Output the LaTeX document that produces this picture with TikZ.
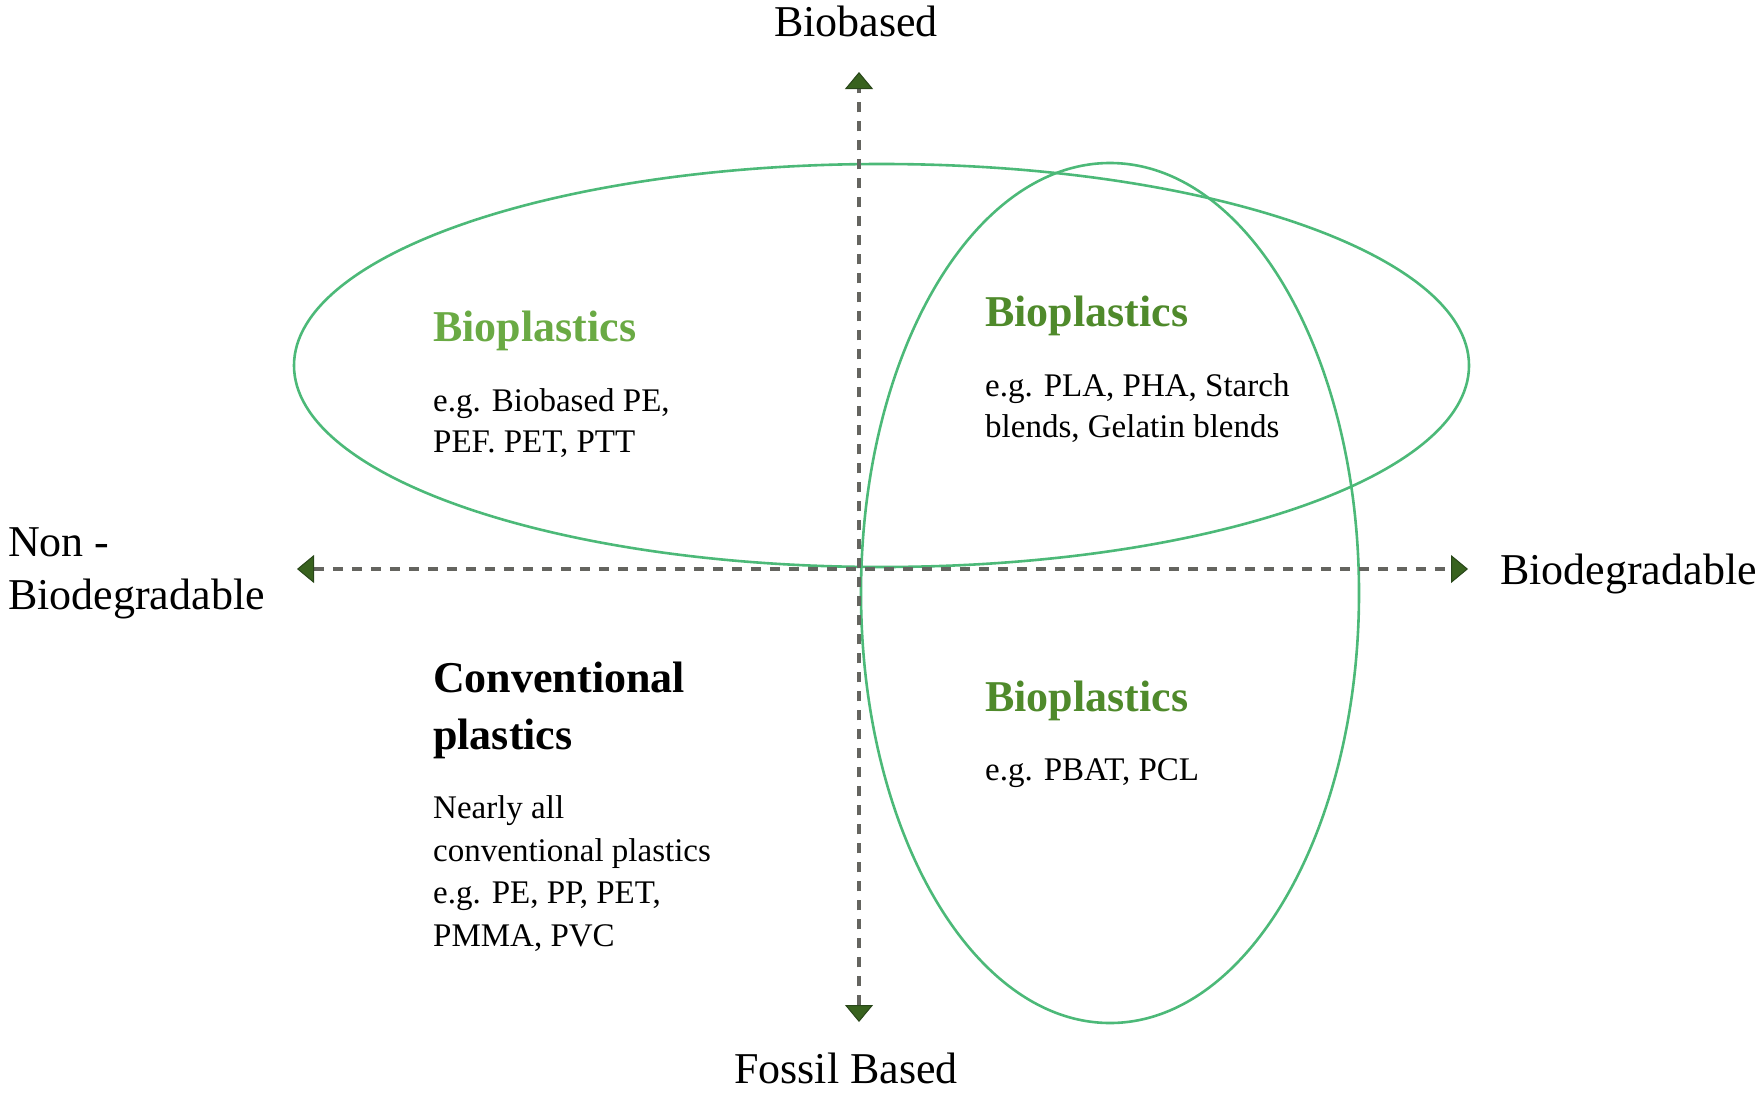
\documentclass[tikz,border=0pt]{standalone}
\usepackage{fontspec}
\setmainfont{Liberation Serif}
\usetikzlibrary{arrows.meta}
\definecolor{ellgreen}{RGB}{76,185,120}
\definecolor{lightgreen}{RGB}{106,170,68}
\definecolor{darkgreen}{RGB}{79,138,43}
\definecolor{arrowfill}{RGB}{56,98,30}
\definecolor{arrowdraw}{RGB}{40,70,25}
\definecolor{dashgray}{RGB}{100,100,95}
\tikzset{
  axisline/.style={draw=dashgray, line width=3.6pt, dash pattern=on 10pt off 9pt,
    {Triangle[length=17pt,width=28pt,fill=arrowfill,color=arrowdraw,line width=1pt]}-{Triangle[length=17pt,width=28pt,fill=arrowfill,color=arrowdraw,line width=1pt]}},
  ell/.style={draw=ellgreen, line width=2.6pt},
  axislabel/.style={inner sep=0pt, font=\fontsize{44}{53}\selectfont, align=left},
  headlight/.style={inner sep=0pt, anchor=base west, font=\fontsize{44}{57}\selectfont\bfseries, text=lightgreen, align=left},
  headdark/.style={inner sep=0pt, anchor=base west, font=\fontsize{44}{57}\selectfont\bfseries, text=darkgreen, align=left},
  headblack/.style={inner sep=0pt, anchor=base west, font=\fontsize{44}{57}\selectfont\bfseries, text=black, align=left},
  bodytext/.style={inner sep=0pt, anchor=base west, font=\fontsize{33}{41}\selectfont, align=left},
}
\begin{document}
\begin{tikzpicture}[x=1pt, y=-1pt]
\useasboundingbox (0,0) rectangle (1760,1092);
% ellipses
\draw[ell] (881.5,365.5) ellipse [x radius=587.5, y radius=201.5];
\draw[ell] (1110,593) ellipse [x radius=249, y radius=430];
% axis end points
\coordinate (top) at (859,72);
\coordinate (bottom) at (859,1022);
\coordinate (left) at (297,569);
\coordinate (right) at (1468,569);
\draw[axisline] (bottom) -- (top);
\draw[axisline] (left) -- (right);
% axis labels
\node[axislabel, anchor=base] (biobased) at (856,36) {Biobased};
\node[axislabel, anchor=base] (fossil) at (846,1083) {Fossil Based};
\node[axislabel, anchor=base west] (nonbio1) at (8,556) {Non -};
\node[axislabel, anchor=base west] (nonbio2) at (8,609) {Biodegradable};
\node[axislabel, anchor=base west] (biodeg) at (1500,584) {Biodegradable};
% quadrant texts
\node[headlight] (tlhead) at (433,341) {Bioplastics};
\node[bodytext] (tlbody1) at (433,411) {e.g. Biobased PE,};
\node[bodytext] (tlbody2) at (433,452) {PEF. PET, PTT};
\node[headdark] (trhead) at (985,326) {Bioplastics};
\node[bodytext] (trbody1) at (985,396) {e.g. PLA, PHA, Starch};
\node[bodytext] (trbody2) at (985,437) {blends, Gelatin blends};
\node[headdark] (brhead) at (985,711) {Bioplastics};
\node[bodytext] (brbody) at (985,780) {e.g. PBAT, PCL};
\node[headblack] (convhead1) at (433,692) {Conventional};
\node[headblack] (convhead2) at (433,749) {plastics};
\node[bodytext] (conv1) at (433,818) {Nearly all};
\node[bodytext] (conv2) at (433,861) {conventional plastics};
\node[bodytext] (conv3) at (433,903) {e.g. PE, PP, PET,};
\node[bodytext] (conv4) at (433,946) {PMMA, PVC};
\end{tikzpicture}
\end{document}
